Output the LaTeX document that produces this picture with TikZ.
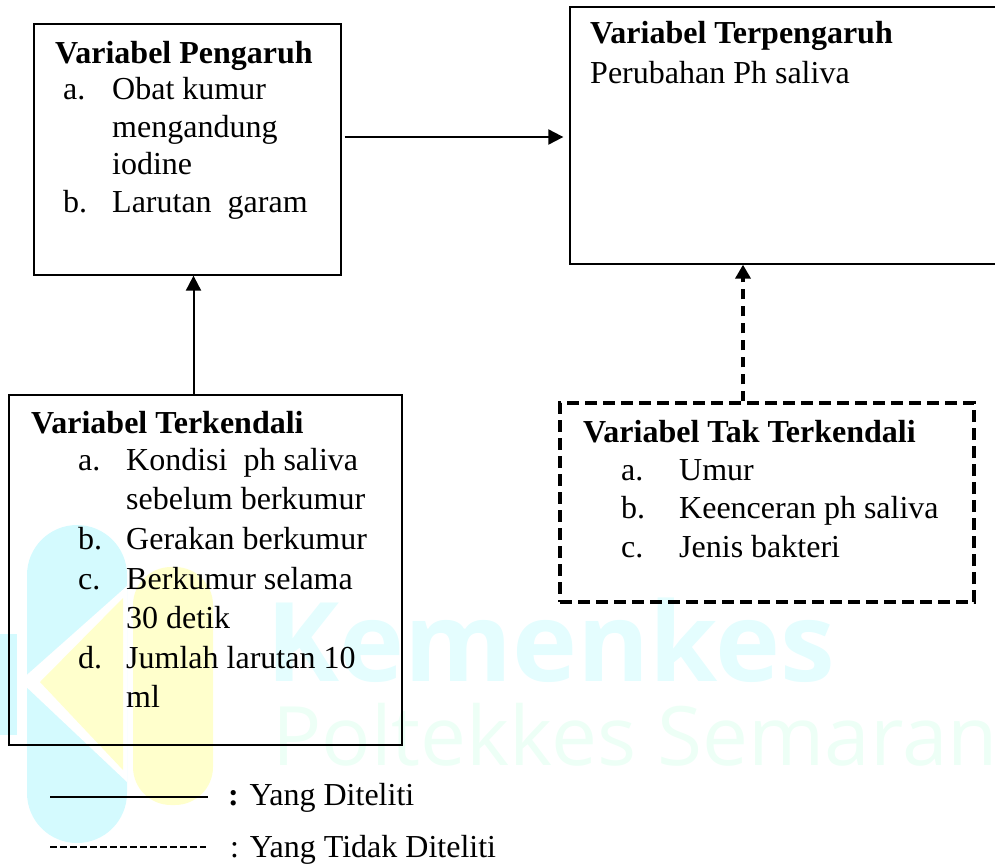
\documentclass[tikz,border=0pt]{standalone}
\usepackage{fontspec}
\setmainfont{Liberation Serif}
\newfontfamily\wmfont{Open Sans}
\usetikzlibrary{arrows.meta}

\definecolor{wmcyan}{HTML}{D4FAFE}
\definecolor{wmyellow}{HTML}{FFFFCC}
\definecolor{wmtext}{HTML}{E4FDFE}
\definecolor{wmgreen}{HTML}{EDFFF6}

\tikzset{
	box/.style={draw, line width=1.3pt, inner sep=0pt},
	dbox/.style={draw, line width=3.5pt, dash pattern=on 12pt off 6pt, inner sep=0pt},
	txt/.style={anchor=base west, inner sep=0pt, font=\fontsize{32}{37}\selectfont},
	head/.style={txt, font=\fontsize{32}{37}\selectfont\bfseries},
	arr/.style={line width=2pt, -{Triangle[length=15pt,width=15pt]}},
	darr/.style={line width=3.5pt, dash pattern=on 10pt off 7pt, -{Triangle[length=14pt,width=15pt]}}
}

\begin{document}
\begin{tikzpicture}[x=1pt,y=-1pt]
	\useasboundingbox (0,0) rectangle (995,865);
	\clip (0,0) rectangle (995,865);

	% watermark
	\fill[wmcyan, rounded corners=50pt] (27,525) rectangle (127,843);
	\fill[wmcyan] (0,634) rectangle (17,735);
	\fill[white] (20,681) -- (127,586) -- (127,782) -- cycle;
	\fill[wmyellow] (40,682) -- (123,598) -- (123,770) -- cycle;
	\fill[wmyellow, rounded corners=38pt] (133,567) rectangle (213,805);
	\node[anchor=base west, inner sep=0pt, text=wmtext, font=\wmfont\fontsize{110}{116}\selectfont\bfseries] (wmtop) at (266,681) {Kemenkes};
	\node[anchor=base west, inner sep=0pt, text=wmgreen, font=\wmfont\fontsize{82}{90}\selectfont] (wmbot) at (272,765) {Poltekkes Semaran};

	% boxes
	\node[box, minimum width=307pt, minimum height=251pt] (pengaruh) at (187.5,149.5) {};
	\node[box, minimum width=430pt, minimum height=257pt] (terpengaruh) at (785,135.5) {};
	\node[box, minimum width=393pt, minimum height=350pt] (terkendali) at (205.5,570) {};
	\node[dbox, minimum width=414pt, minimum height=199pt] (takterkendali) at (767,502.5) {};

	% Variabel Pengaruh
	\node[head] (h1) at (55,63) {Variabel Pengaruh};
	\foreach \y/\l/\t in {99/a./Obat kumur, 137//mengandung, 174//iodine, 212/b./Larutan~ garam}{
		\node[txt] (l1-\y) at (63,\y) {\l};
		\node[txt] (t1-\y) at (112,\y) {\t};
	}

	% Variabel Terpengaruh
	\node[head] (h2) at (590,43) {Variabel Terpengaruh};
	\node[txt] (t2) at (590,83) {Perubahan Ph saliva};

	% Variabel Terkendali
	\node[head] (h3) at (31,433) {Variabel Terkendali};
	\foreach \y/\l/\t in {470/a./Kondisi~ ph saliva, 509//sebelum berkumur, 549/b./Gerakan berkumur,
		589/c./Berkumur selama, 628//30 detik, 668/d./Jumlah larutan 10, 707//ml}{
		\node[txt] (l3-\y) at (78,\y) {\l};
		\node[txt] (t3-\y) at (126,\y) {\t};
	}

	% Variabel Tak Terkendali
	\node[head] (h4) at (583,442) {Variabel Tak Terkendali};
	\foreach \y/\l/\t in {480/a./Umur, 518/b./Keenceran ph saliva, 557/c./Jenis bakteri}{
		\node[txt] (l4-\y) at (621,\y) {\l};
		\node[txt] (t4-\y) at (679,\y) {\t};
	}

	% connectors
	\draw[arr] ([xshift=3pt,yshift=12.5pt]pengaruh.east) coordinate (a1) -- ([xshift=-6pt]a1 -| terpengaruh.west);
	\draw[arr] ([xshift=-12pt]terkendali.north) -- ([xshift=-12pt]terkendali.north |- pengaruh.south);
	\draw[darr] ([xshift=-24pt]takterkendali.north) -- ([xshift=-24pt]takterkendali.north |- terpengaruh.south);

	% legend
	\coordinate (ls1) at (50,797);
	\coordinate (ls2) at (208,797);
	\coordinate (ld1) at (50,847);
	\coordinate (ld2) at (206,847);
	\draw[line width=1.3pt] (ls1) -- (ls2);
	\draw[line width=1.6pt, dash pattern=on 7pt off 3pt] (ld1) -- (ld2);
	\node[txt] (lg1) at (228,805) {\textbf{:} Yang Diteliti};
	\node[txt] (lg2) at (230,857) {: Yang Tidak Diteliti};
\end{tikzpicture}
\end{document}
